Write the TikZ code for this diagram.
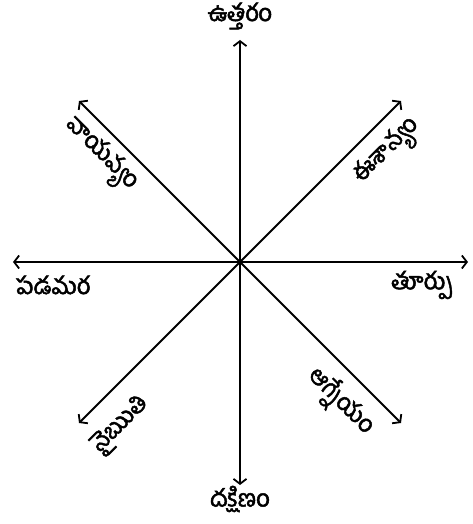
\documentclass[tikz,border=0pt]{standalone}
\usepackage{fontspec}
\newfontfamily\telugufont[Script=Telugu,FakeBold=2]{Hind Guntur}
\usetikzlibrary{arrows.meta}

\begin{document}
\begin{tikzpicture}[
      x=1pt, y=1pt,
      font=\telugufont\fontsize{24}{28}\selectfont,
      dirarrow/.style={-{Straight Barb[length=5pt,width=13pt,line width=1.8pt]}, line width=1.8pt},
      dirlabel/.style={inner sep=1pt}
    ]
    \useasboundingbox (-240,-262) rectangle (233,262);

    \coordinate (centre) at (0,0);
    \coordinate (north) at (0,222);
    \coordinate (south) at (0,-223);
    \coordinate (west) at (-227,0);
    \coordinate (east) at (228,0);
    \coordinate (northeast) at (161,161);
    \coordinate (northwest) at (-161,161);
    \coordinate (southwest) at (-161,-161);
    \coordinate (southeast) at (161,-161);

    \draw[dirarrow] (centre) -- (north);
    \draw[dirarrow] (centre) -- (south);
    \draw[dirarrow] (centre) -- (west);
    \draw[dirarrow] (centre) -- (east);
    \draw[dirarrow] (centre) -- (northeast);
    \draw[dirarrow] (centre) -- (northwest);
    \draw[dirarrow] (centre) -- (southwest);
    \draw[dirarrow] (centre) -- (southeast);

    \node[dirlabel] (uttaram) at (0,246) {ఉత్తరం};
    \node[dirlabel, inner sep=0pt] (dakshinam) at (0,-237) {దక్షిణం};
    \node[dirlabel] (padamara) at (-187,-23) {పడమర};
    \node[dirlabel, anchor=west] (turpu) at (150,-23) {తూర్పు};
    \node[dirlabel, rotate=45] (eesanyam) at (148,110) {ఈశాన్యం};
    \node[dirlabel, rotate=-45] (vayavyam) at (-140,107) {వాయవ్యం};
    \node[dirlabel, rotate=45] (nairuti) at (-119,-163) {నైఋతి};
    \node[dirlabel, rotate=-45] (agneyam) at (100,-140) {ఆగ్నేయం};
  \end{tikzpicture}
\end{document}
